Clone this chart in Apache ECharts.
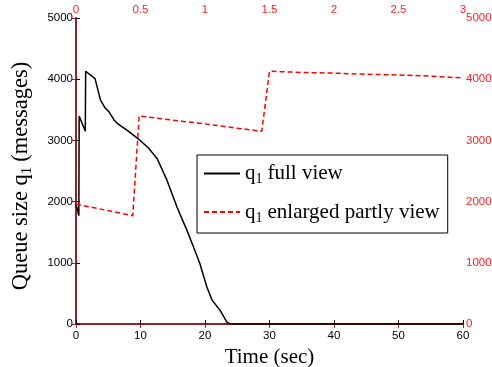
<!DOCTYPE html>
<html><head><meta charset="utf-8">
<script src="https://cdn.jsdelivr.net/npm/echarts@6/dist/echarts.min.js"></script>
<style>html,body{margin:0;padding:0;background:#fff}#c{width:492px;height:367px}</style>
</head><body><div id="c"></div>
<script>
// q1 full view: [time (sec), queue size]
const fullTime = [0, 0.44, 0.49, 1.44, 1.5, 2.95, 3.8, 4.5, 5.1, 6.0, 6.5, 8.0, 9.6, 11.2, 12.6, 14.1, 15.7, 17.2, 18.1, 19.2, 20.3, 21.1, 22.3, 23.4, 23.9, 30, 40, 50, 60];
const fullQueue = [1960, 1770, 3400, 3150, 4130, 4010, 3660, 3530, 3470, 3320, 3270, 3160, 3030, 2880, 2700, 2350, 1900, 1530, 1290, 990, 600, 390, 230, 30, 0, 0, 0, 0, 0];
// q1 enlarged partly view (top axis 0-3 sec)
const partTime = [0, 0.44, 0.49, 0.75, 1.0, 1.25, 1.44, 1.5, 1.75, 2.0, 2.25, 2.5, 2.75, 3.0];
const partQueue = [1960, 1770, 3400, 3330, 3270, 3200, 3150, 4130, 4110, 4100, 4080, 4070, 4050, 4020];
const leftTicks = [0, 1000, 2000, 3000, 4000, 5000];
const bottomTicks = [0, 10, 20, 30, 40, 50, 60];
const topTicks = [0, 0.5, 1, 1.5, 2, 2.5, 3];

const serif = 'Liberation Serif';
const sans = 'Liberation Sans';
const darkRed = '#b01820';
const red = '#ff2020';
const rich = {
  a: {fontFamily: serif, fontSize: 21, color: '#000'},
  s: {fontFamily: serif, fontSize: 14, color: '#000', padding: [12, 5, 0, 0]}
};
const yRich = {
  a: {fontFamily: serif, fontSize: 22.5, color: '#000'},
  s: {fontFamily: serif, fontSize: 15, color: '#000', padding: [12, 5, 0, 0]}
};
const plain = v => String(v);
const chart = echarts.init(document.getElementById('c'));
chart.setOption({
  animation: false,
  grid: {left: 76, right: 29, top: 18, bottom: 43, outerBoundsMode: 'none', containLabel: false},
  xAxis: [
    {type: 'value', position: 'bottom', min: bottomTicks[0], max: bottomTicks[bottomTicks.length-1], interval: 10,
     name: 'Time (sec)', nameLocation: 'middle', nameGap: 21,
     nameTextStyle: {fontFamily: serif, fontSize: 21, color: '#000'},
     axisLine: {lineStyle: {color: '#000', width: 1.5}},
     axisTick: {inside: true, length: 4, lineStyle: {color: '#000'}},
     axisLabel: {fontFamily: sans, fontSize: 11.5, color: '#000', margin: 6, formatter: plain},
     splitLine: {show: false}},
    {type: 'value', position: 'top', min: topTicks[0], max: topTicks[topTicks.length-1], interval: 0.5,
     axisLine: {lineStyle: {color: darkRed, width: 1.5}},
     axisTick: {inside: true, length: 4, lineStyle: {color: darkRed}},
     axisLabel: {fontFamily: sans, fontSize: 11.5, color: red, margin: 2, formatter: plain},
     splitLine: {show: false}}
  ],
  yAxis: [
    {type: 'value', position: 'left', min: leftTicks[0], max: leftTicks[leftTicks.length-1], interval: 1000,
     name: '{a|Queue size q}{s|1}{a|(messages)}', nameLocation: 'middle', nameGap: 41, nameRotate: 90,
     nameTextStyle: {rich: yRich, padding: [0, 10, 0, 0]},
     axisLine: {show: true, lineStyle: {color: '#000', width: 1.5}},
     axisTick: {show: true, inside: true, length: 4, lineStyle: {color: '#000'}},
     axisLabel: {fontFamily: sans, fontSize: 11.5, color: '#000', margin: 3, formatter: plain},
     splitLine: {show: false}},
    {type: 'value', position: 'right', min: leftTicks[0], max: leftTicks[leftTicks.length-1], interval: 1000,
     axisLine: {show: true, lineStyle: {color: darkRed, width: 1.5}},
     axisTick: {show: true, inside: true, length: 4, lineStyle: {color: darkRed}},
     axisLabel: {fontFamily: sans, fontSize: 11.5, color: red, margin: 3, formatter: plain},
     splitLine: {show: false}}
  ],
  legend: {
    left: 197, top: 155, orient: 'vertical',
    borderColor: '#000', borderWidth: 1, backgroundColor: '#fff', borderRadius: 0,
    padding: [8, 8, 8, 6], itemGap: 15, itemWidth: 36, itemHeight: 14,
    itemStyle: {opacity: 0},
    textStyle: {rich: rich},
    formatter: function (name) {
      return name === 'full' ? '{a|q}{s|1}{a|full view}' : '{a|q}{s|1}{a|enlarged partly view}';
    },
    data: ['full', 'part']
  },
  series: [
    {name: 'full', type: 'line', xAxisIndex: 0, yAxisIndex: 0, showSymbol: false, symbol: 'none',
     lineStyle: {color: '#000', width: 1.5}, itemStyle: {color: '#000'},
     data: fullTime.map((t, i) => [t, fullQueue[i]])},
    {name: 'part', type: 'line', xAxisIndex: 1, yAxisIndex: 1, showSymbol: false, symbol: 'none',
     lineStyle: {color: '#ff0000', width: 1.5, type: [5, 3]}, itemStyle: {color: '#ff0000'},
     data: partTime.map((t, i) => [t, partQueue[i]])}
  ]
});
</script></body></html>
